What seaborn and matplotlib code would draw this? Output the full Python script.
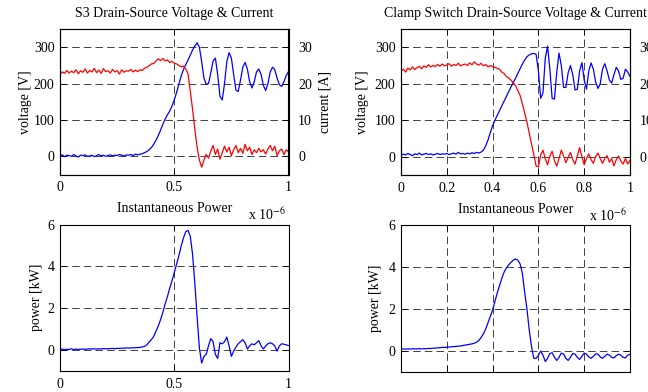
import numpy as np
import pandas as pd
import matplotlib
matplotlib.use("Agg")
import matplotlib.pyplot as plt
import seaborn as sns
from matplotlib.ticker import FixedLocator, FuncFormatter

# ---------------- data (time in microseconds) ----------------
time_us = np.linspace(0, 1, 101)

s3_voltage = [1, 4, -1, 3, 2, 0, 5, 1, -2, 3, 2, 4, 0, 1, 3, -1, 2, 5, 1, 3,
              0, 2, 4, 1, 3, 2, 5, 3, 1, 4, 3, 5, 2, 6, 4,
              6, 7, 10, 13, 18, 24, 33, 44, 57, 72, 88, 102, 114, 124, 138,
              155, 175, 198, 220, 238, 252, 264, 278, 292, 303,
              312, 300, 260, 215, 198, 200, 230, 262, 270, 225, 165, 155, 200,
              260, 285, 270, 225, 182, 178, 210, 245, 258, 240, 205, 188, 205,
              232, 240, 225, 195, 181, 200, 232, 245, 238, 215, 197, 192, 205,
              222, 233]

s3_current = [22.5, 23.2, 22.8, 23.6, 22.9, 23.4, 23.0, 23.8, 22.7, 23.5,
              23.1, 24.0, 22.9, 23.6, 23.2, 24.2, 23.0, 23.7, 22.8, 24.1,
              23.3, 23.5, 22.9, 23.9, 23.2, 23.6, 22.6, 23.8, 23.1, 23.5,
              23.4, 23.9, 23.2, 23.7, 23.3, 23.8,
              23.6, 24.2, 24.5, 24.9, 25.4, 25.5, 26.2, 26.8, 26.3, 26.9,
              26.2, 26.5, 25.8, 26.1, 25.6, 25.4, 25.0, 24.6, 24.8, 24.0, 22.8,
              18.0, 13.0, 7.5, 2.5, -1.0, -3.0, -1.0, 0.5, -0.5, 1.5,
              3.0, 0.5, 2.0, -0.8, 1.0, 2.8, 1.2, 2.5, 0.2, 1.8,
              3.0, 1.0, 2.2, 0.8, 3.3, 1.5, 2.5, 0.5, 1.8, 1.0,
              2.2, 1.2, 1.8, 0.6, 2.0, 3.0, 1.5, 2.8, 0.2, 1.5,
              2.0, 0.5, 1.8, 1.2]

clamp_voltage = [4, 7, 5, 9, 6, 3, 8, 6, 10, 5, 7, 9, 6, 8, 5, 7, 9, 6, 8, 7,
                 9, 6, 8, 10, 7, 12, 8, 9, 7, 10, 8, 11, 9, 12, 10, 13,
                 18, 30, 46, 66, 85, 100, 113, 126, 139, 152, 165, 178, 191,
                 203, 215, 228, 241, 254, 265, 274, 279, 282, 283, 281,
                 235, 160, 175, 270, 303, 240, 160, 158, 230, 284,
                 250, 190, 190, 230, 250, 225, 183, 185, 235, 258,
                 210, 185, 235, 257, 240, 205, 187, 200, 240, 255,
                 235, 210, 202, 225, 245, 235, 212, 215, 240, 232, 220]

clamp_current = [23.5, 24.0, 23.2, 24.3, 23.8, 24.6, 23.9, 24.4, 24.8, 24.1,
                 24.9, 24.5, 25.2, 24.6, 25.0, 24.7, 25.3, 24.8, 25.4, 24.9,
                 25.1, 25.5, 24.8, 25.3, 25.0, 25.6, 24.9, 25.2, 25.4, 25.0,
                 25.7, 25.2, 26.0, 25.4, 25.1, 25.6, 24.9, 25.3, 24.6, 25.0,
                 24.7,
                 24.5, 24.2, 24.0, 23.2, 22.8, 22.0, 21.6, 21.0, 20.3, 19.5,
                 18.2, 16.8, 14.5, 12.0, 9.5, 6.5, 3.5, 0.5, -2.5, -2.8,
                 0.5, 1.8, -0.5, -2.2, 0.2, 1.5, -1.0, -2.6, -0.5, 1.8,
                 0.2, -1.6, -0.2, 1.2, -0.8, -2.0, 0.2, 2.5, 0.0, -2.2,
                 -0.5, 0.8, -0.8, -1.8, 0.0, 1.0, -0.5, -1.8, -0.5, 0.3,
                 -1.5, -0.5, -2.5, -0.8, 0.2, -1.2, -2.0, -0.5, -2.0, -1.0]

s3_power_kw = [0.02, 0.05, 0.01, 0.04, 0.03, 0.06, 0.02, 0.05, 0.03, 0.04,
               0.05, 0.04, 0.05, 0.06, 0.05, 0.06, 0.05, 0.06, 0.06, 0.07,
               0.06, 0.07, 0.07, 0.08, 0.07, 0.08, 0.08, 0.09, 0.09, 0.10,
               0.10,
               0.10, 0.11, 0.11, 0.12, 0.13, 0.15, 0.18, 0.25, 0.38, 0.50,
               0.65, 0.90, 1.15, 1.45, 1.80, 2.20, 2.55, 2.95, 3.30, 3.70,
               4.10, 4.50, 4.95, 5.35, 5.65, 5.72,
               5.45, 4.60, 3.20, 1.60, 0.10, -0.62, -0.30, -0.20, 0.20, 0.55,
               0.40, -0.20, -0.40, 0.35, 0.30, 0.40, 0.62, 0.20, -0.30, -0.05,
               0.15, 0.30, 0.40, 0.50, 0.35, 0.05, 0.20, 0.30, 0.25, 0.35,
               0.45, 0.20, 0.05, 0.20, 0.30, 0.35, 0.30, 0.20, -0.05, 0.20,
               0.30, 0.28, 0.25, 0.22]

clamp_power_kw = [0.08, 0.10, 0.09, 0.10, 0.09, 0.11, 0.10, 0.10, 0.11, 0.10,
                  0.11, 0.11, 0.12, 0.12, 0.13, 0.14,
                  0.15, 0.16, 0.17, 0.17, 0.18, 0.19, 0.20, 0.21, 0.22, 0.23,
                  0.24, 0.26, 0.28, 0.30, 0.32, 0.34, 0.37, 0.42,
                  0.50, 0.65, 0.82, 1.05, 1.35, 1.65, 1.95, 2.35, 2.75, 3.10,
                  3.45, 3.75, 3.95, 4.10, 4.22, 4.32, 4.38, 4.33,
                  4.15, 3.70, 2.80, 2.00, 1.00, 0.20, -0.35, -0.35, -0.20, 0.00,
                  -0.20, -0.50, -0.35, -0.12, -0.08, -0.30, -0.45, -0.30, -0.10, -0.15,
                  -0.35, -0.45, -0.30, -0.12, -0.15, -0.30, -0.40, -0.25, -0.10, -0.15,
                  -0.28, -0.35, -0.25, -0.14, -0.15, -0.28, -0.35, -0.25, -0.15, -0.20,
                  -0.30, -0.33, -0.22, -0.15, -0.20, -0.30, -0.33, -0.20, -0.15]

titles = ["S3 Drain-Source Voltage & Current",
          "Clamp Switch Drain-Source Voltage & Current",
          "Instantaneous Power", "Instantaneous Power"]
voltage_ticks = [0, 100, 200, 300]
current_ticks = [0, 10, 20, 30]
power_ticks = [0, 2, 4, 6]
xticks_left = [0, 0.5, 1]
xticks_right = [0, 0.2, 0.4, 0.6, 0.8, 1]

# ---------------- style ----------------
sns.set_style("ticks")
plt.rcParams.update({
    "font.family": ["Liberation Serif", "DejaVu Serif"],
    "font.size": 10,
    "mathtext.fontset": "stix",
    "axes.linewidth": 0.8,
    "axes.edgecolor": "black",
    "axes.labelcolor": "black",
    "text.color": "black",
    "xtick.color": "black",
    "ytick.color": "black",
    "xtick.direction": "in",
    "ytick.direction": "in",
    "xtick.major.size": 4,
    "ytick.major.size": 4,
    "xtick.major.width": 0.6,
    "ytick.major.width": 0.6,
})

fig = plt.figure(figsize=(6.48, 3.92), dpi=100)
W, H = 648.0, 392.0


def box(l, r, t, b):
    return [l / W, 1 - b / H, (r - l) / W, (b - t) / H]


fmt = FuncFormatter(lambda v, p: f"{v:g}")
GRID = dict(color="#222222", linestyle=(0, (9, 5)), linewidth=0.6)

df = pd.DataFrame({"t": time_us,
                   "s3_v": s3_voltage, "s3_i": s3_current,
                   "cl_v": clamp_voltage, "cl_i": clamp_current,
                   "s3_p": s3_power_kw, "cl_p": clamp_power_kw})


def style_axis(ax, xt, yt, ylim, show_xlabels=True):
    ax.set_xlim(0, 1)
    ax.set_ylim(*ylim)
    ax.xaxis.set_major_locator(FixedLocator(xt))
    ax.yaxis.set_major_locator(FixedLocator(yt))
    ax.xaxis.set_major_formatter(fmt)
    ax.yaxis.set_major_formatter(fmt)
    ax.grid(True, **GRID)
    ax.tick_params(axis="y", pad=4)
    ax.tick_params(axis="x", pad=5)
    if not show_xlabels:
        ax.tick_params(axis="x", labelbottom=False)
    ax.set_xlabel("")
    for s in ax.spines.values():
        s.set_visible(True)


panels = [
    (box(60, 288.5, 29, 174.5), "s3_v", "s3_i", titles[0], xticks_left, -0.1225),
    (box(401, 630, 29, 175), "cl_v", "cl_i", titles[1], xticks_right, -0.14),
]
for pos, vcol, icol, title, xt, lx in panels:
    ax = fig.add_axes(pos)
    sns.lineplot(data=df, x="t", y=vcol, ax=ax, color="#0000ff",
                 linewidth=0.9, estimator=None)
    style_axis(ax, xt, voltage_ticks, (-50, 350))
    ax.set_ylabel("voltage [V]")
    ax.yaxis.set_label_coords(lx, 0.5)
    ax.set_title(title, pad=9, fontsize=10)
    ax.tick_params(top=True, right=False)
    ax2 = ax.twinx()
    sns.lineplot(data=df, x="t", y=icol, ax=ax2, color="#ff0000",
                 linewidth=0.9, estimator=None)
    ax2.set_ylim(-5, 35)
    ax2.yaxis.set_major_locator(FixedLocator(current_ticks))
    ax2.yaxis.set_major_formatter(fmt)
    ax2.tick_params(axis="y", pad=7)
    ax2.set_ylabel("current [A]")
    ax2.yaxis.set_label_coords(1 + (319 - 288.5) / 228.5, 0.5)
    ax2.set_xlabel("")
    ax.text(0.987, -0.313, r"x 10$^{-6}$", transform=ax.transAxes,
            ha="right", va="baseline", fontsize=10)

bottom = [
    (box(60, 288.5, 224.5, 371), "s3_p", xticks_left, -0.074, True),
    (box(401, 630, 225, 372), "cl_p", xticks_right, -0.083, False),
]
for pos, pcol, xt, lx, showx in bottom:
    ax = fig.add_axes(pos)
    sns.lineplot(data=df, x="t", y=pcol, ax=ax, color="#0000ff",
                 linewidth=0.9, estimator=None)
    style_axis(ax, xt, power_ticks, (-1, 6), show_xlabels=showx)
    ax.set_ylabel("power [kW]")
    ax.yaxis.set_label_coords(lx, 0.5)
    ax.set_title("Instantaneous Power", pad=9, fontsize=10)
    ax.tick_params(top=True, right=True)

fig.savefig("out.png", dpi=100)
